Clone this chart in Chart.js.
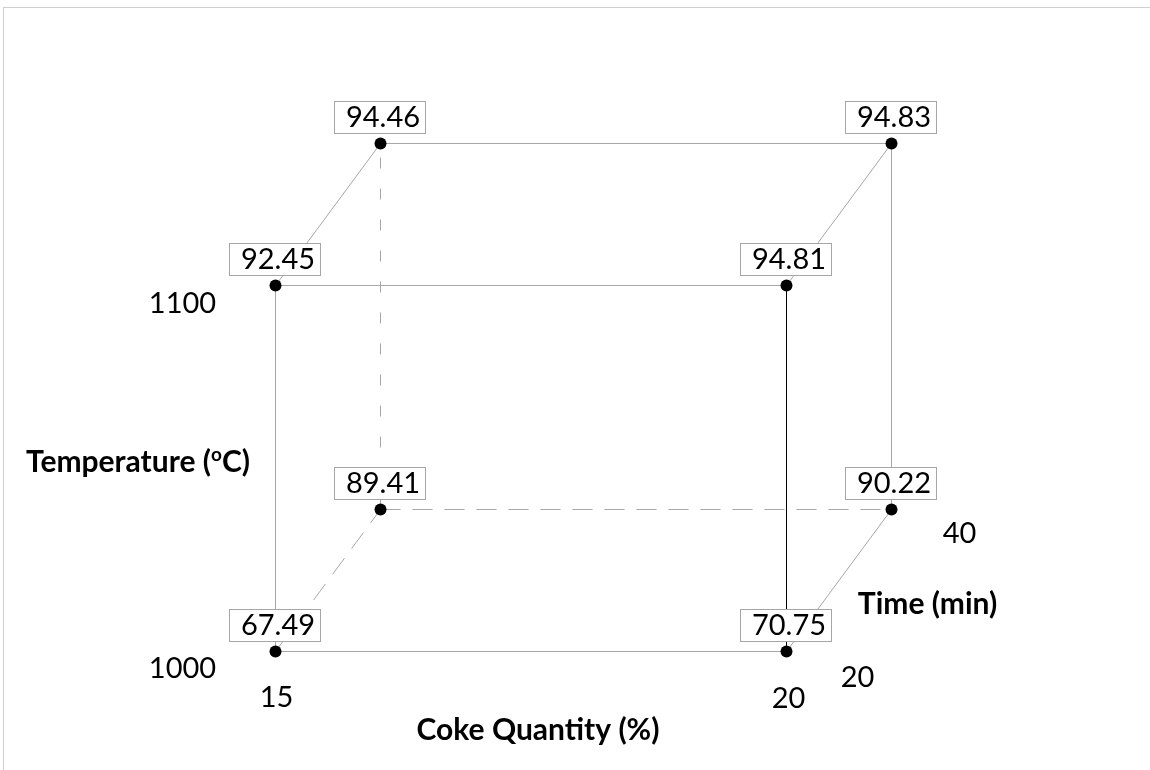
<!DOCTYPE html>
<html>
<head>
<meta charset="utf-8">
<script src="https://cdn.jsdelivr.net/npm/chart.js@4.4.1/dist/chart.umd.min.js"></script>
<style>
  body { margin: 0; background: #fff; }
  /* el marquito gris de arriba y la izquierda */
  #marco {
    position: absolute; left: 3px; top: 7px; width: 1147px; height: 763px;
    border-top: 1px solid #d0d0d0; border-left: 1px solid #d0d0d0;
  }
  #grafico { position: absolute; left: 0; top: 0; }
</style>
</head>
<body>
<div id="marco"></div>
<canvas id="grafico" width="1150" height="770"></canvas>
<script>
// niveles de cada factor (diseño 2^3)
const cantidadCoque = [15, 20];
const temperaturas = [1000, 1100];
const tiempos = [20, 40];

// las 8 corridas en orden estandar y su respuesta
const corridaCoque = [15, 20, 15, 20, 15, 20, 15, 20];
const corridaTemp = [1000, 1000, 1100, 1100, 1000, 1000, 1100, 1100];
const corridaTiempo = [20, 20, 20, 20, 40, 40, 40, 40];
const rendimiento = [67.49, 70.75, 92.45, 94.81, 89.41, 90.22, 94.46, 94.83];

// aristas del cubo (pares de corridas)
const aristas = [
  [0, 1], [2, 3], [0, 2], [1, 3],
  [6, 7], [5, 7], [4, 6], [4, 5],
  [2, 6], [3, 7], [1, 5], [0, 4],
];

// cuanto se corre el eje del tiempo (profundidad) en x e y
const profX = 0.2055;
const profY = 0.388;

// pasa una corrida a coordenadas del plano
function proyectar(i) {
  const t = (corridaTiempo[i] - tiempos[0]) / (tiempos[1] - tiempos[0]);
  return {
    x: (corridaCoque[i] - cantidadCoque[0]) / (cantidadCoque[1] - cantidadCoque[0]) + profX * t,
    y: (corridaTemp[i] - temperaturas[0]) / (temperaturas[1] - temperaturas[0]) + profY * t,
  };
}

const GRIS = "#a6a6a6";
const FUENTE = "Lato, 'Open Sans', sans-serif";

// las aristas escondidas (las que tocan la corrida 4) van punteadas
function estiloArista(a, b) {
  const estilo = { color: GRIS, dash: [] };
  if (a === 4 || b === 4) {
    estilo.dash = corridaTemp[a] !== corridaTemp[b] ? [11, 20] : [20, 12];
  }
  if (a === 1 && b === 3) estilo.color = "#000";
  return estilo;
}

const datasets = [
  {
    label: "corridas",
    data: rendimiento.map((v, i) => proyectar(i)),
    showLine: false,
    pointRadius: 6,
    pointBackgroundColor: "#000",
    pointBorderColor: "#000",
    pointBorderWidth: 0,
  },
];

aristas.forEach(([a, b]) => {
  const e = estiloArista(a, b);
  datasets.push({
    label: `arista ${a}-${b}`,
    data: [proyectar(a), proyectar(b)],
    showLine: true,
    borderColor: e.color,
    borderWidth: 1,
    borderDash: e.dash,
    pointRadius: 0,
    fill: false,
  });
});

// escribe un texto centrado con un pedacito en superindice
function textoConSuper(ctx, partes, cx, base) {
  let ancho = 0;
  partes.forEach((p) => {
    ctx.font = p.font;
    ancho += ctx.measureText(p.txt).width;
  });
  let x = cx - ancho / 2;
  ctx.textAlign = "left";
  partes.forEach((p) => {
    ctx.font = p.font;
    ctx.fillText(p.txt, x, base + (p.sube || 0));
    x += ctx.measureText(p.txt).width;
  });
}

// plugin para las cajitas con los valores y los textos de los ejes
const etiquetas = {
  id: "etiquetas",
  afterDatasetsDraw(chart) {
    const ctx = chart.ctx;
    const sx = chart.scales.x;
    const sy = chart.scales.y;
    const px = (i) => sx.getPixelForValue(proyectar(i).x);
    const py = (i) => sy.getPixelForValue(proyectar(i).y);

    ctx.save();
    ctx.textBaseline = "alphabetic";

    // cajitas con el valor arriba de cada punto
    rendimiento.forEach((v, i) => {
      const x = Math.floor(px(i));
      const y = Math.floor(py(i));
      ctx.fillStyle = "#fff";
      ctx.fillRect(x - 45.5, y - 41.5, 91, 32);
      ctx.strokeStyle = GRIS;
      ctx.lineWidth = 1;
      ctx.strokeRect(x - 45.5, y - 41.5, 91, 32);
      ctx.fillStyle = "#000";
      ctx.font = `29px ${FUENTE}`;
      ctx.textAlign = "center";
      ctx.fillText(v.toFixed(2), x + 3, y - 16);
    });

    ctx.fillStyle = "#000";
    ctx.font = `29px ${FUENTE}`;
    ctx.textAlign = "center";

    // ticks del coque
    ctx.fillText(String(cantidadCoque[0]), px(0) + 1, py(0) + 56);
    ctx.fillText(String(cantidadCoque[1]), px(1) + 2, py(1) + 57);
    // ticks de temperatura
    ctx.fillText(String(temperaturas[0]), px(0) - 93, py(0) + 27);
    ctx.fillText(String(temperaturas[1]), px(2) - 93, py(2) + 28);
    // ticks del tiempo
    ctx.fillText(String(tiempos[0]), px(1) + 71, py(1) + 36);
    ctx.fillText(String(tiempos[1]), px(5) + 68, py(5) + 34);

    // titulos de los ejes
    const negrita = `bold 30px ${FUENTE}`;
    const chica = `bold 19px ${FUENTE}`;
    ctx.font = negrita;
    ctx.fillText("Coke Quantity (%)", (px(0) + px(1)) / 2 + 7, py(0) + 89);
    ctx.fillText("Time (min)", px(5) + 36, py(5) + 105);

    textoConSuper(
      ctx,
      [
        { txt: "Temperature (", font: negrita },
        { txt: "o", font: chica, sube: -11 },
        { txt: "C)", font: negrita },
      ],
      138,
      (py(0) + py(2)) / 2 + 4,
    );

    ctx.restore();
  },
};

const canvas = document.getElementById("grafico");

const chart = new Chart(canvas, {
  type: "scatter",
  data: { datasets: datasets },
  options: {
    responsive: false,
    animation: false,
    layout: { padding: 0, autoPadding: false },
    plugins: {
      legend: { display: false },
      tooltip: { enabled: false },
    },
    scales: {
      // ajustados para que el cubo quede donde esta en la figura (medio pixel para lineas nitidas)
      x: { type: "linear", display: false, min: -0.53914, max: 1.71135 },
      y: { type: "linear", display: false, min: -0.32377, max: 1.78005 },
    },
  },
  plugins: [etiquetas],
});
</script>
</body>
</html>
